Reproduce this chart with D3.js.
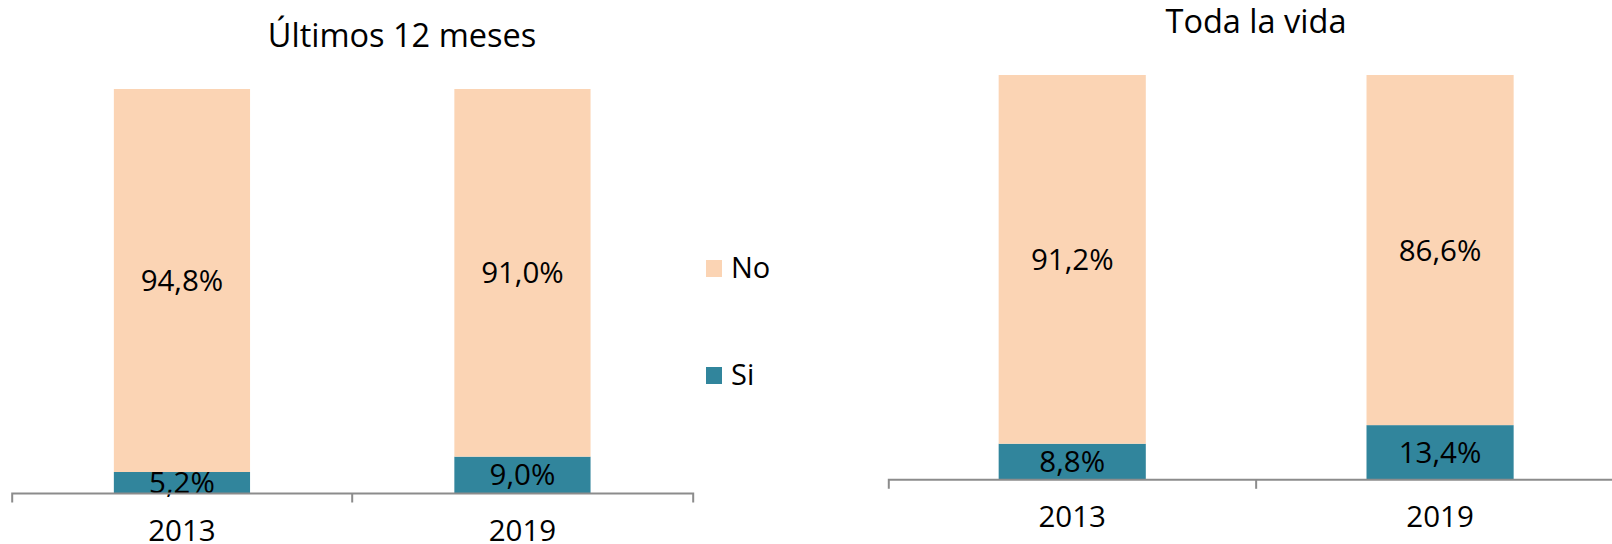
<!DOCTYPE html>
<html>
<head>
<meta charset="utf-8">
<script src="https://cdn.jsdelivr.net/npm/d3@7"></script>
<style>
  body { margin: 0; background: #fff; }
  text { font-family: "Open Sans", "Noto Sans", sans-serif; fill: #000; }
</style>
</head>
<body>
<div id="chart"></div>
<script>
const YEARS = ["2013", "2019"];
const SERIES = ["Si", "No"];
const SI_12M = [5.2, 9.0];
const NO_12M = [94.8, 91.0];
const SI_VIDA = [8.8, 13.4];
const NO_VIDA = [91.2, 86.6];
const TITLES = ["Últimos 12 meses", "Toda la vida"];

const COLORS = { Si: "#31859c", No: "#fbd4b4" };
const W = 1612, H = 544;

var svg = d3.select("#chart") //main svg
  .append("svg")
  .attr("width", W)
  .attr("height", H);

// one panel per chart, positions found by guess and check against the picture
const panels = [
  { title: TITLES[0], si: SI_12M, no: NO_12M, x0: 11.7, x1: 692.7, top: 89, base: 493, titleX: 402, titleY: 47 },
  { title: TITLES[1], si: SI_VIDA, no: NO_VIDA, x0: 888.3, x1: 1624, top: 75, base: 479.3, titleX: 1256, titleY: 32.5 }
];

const fmt = (v) => v.toFixed(1).replace(".", ",") + "%";

panels.forEach(function(p) {
  const x = d3.scaleBand()
    .domain(YEARS)
    .range([p.x0, p.x1])
    .paddingInner(0.6)
    .paddingOuter(0.3);

  const y = d3.scaleLinear()
    .domain([0, 100])
    .range([p.base, p.top]);

  const rows = YEARS.map((yr, i) => ({ year: yr, Si: p.si[i], No: p.no[i] }));
  const stacked = d3.stack().keys(SERIES)(rows);

  const g = svg.append("g");

  g.selectAll("g.layer")
    .data(stacked)
    .join("g")
      .attr("class", "layer")
      .attr("fill", (d) => COLORS[d.key])
    .selectAll("rect")
    .data((d) => d)
    .join("rect")
      .attr("x", (d) => x(d.data.year))
      .attr("width", x.bandwidth())
      .attr("y", (d) => y(d[1]))
      .attr("height", (d) => y(d[0]) - y(d[1]));

  // value labels, centred in each segment
  g.selectAll("g.lab")
    .data(stacked)
    .join("g")
      .attr("class", "lab")
    .selectAll("text")
    .data((d) => d.map((s) => ({ s: s, key: d.key })))
    .join("text")
      .attr("x", (d) => x(d.s.data.year) + x.bandwidth() / 2)
      .attr("y", (d) => (y(d.s[0]) + y(d.s[1])) / 2)
      .attr("dy", "0.36em")
      .attr("text-anchor", "middle")
      .style("font-size", "29.5px")
      .text((d) => fmt(d.s.data[d.key]));

  // axis: labels at centres, ticks at category edges
  const axis = g.append("g")
    .attr("transform", "translate(0," + p.base + ")")
    .call(d3.axisBottom(x).tickSizeInner(0).tickSizeOuter(9.5).tickPadding(27));
  axis.select(".domain").attr("stroke", "#8c8c8c").attr("stroke-width", 2);
  axis.selectAll(".tick text")
    .attr("fill", "#000")
    .style("font-size", "29.5px")
    .style("font-family", '"Open Sans", "Noto Sans", sans-serif');

  const mid = x.range()[0] + x.step() * (x.paddingOuter() + 1 - x.paddingInner() / 2);
  axis.append("line")
    .attr("x1", mid).attr("x2", mid)
    .attr("y1", 0).attr("y2", 9.5)
    .attr("stroke", "#8c8c8c")
    .attr("stroke-width", 2);

  svg.append("text")
    .attr("x", p.titleX)
    .attr("y", p.titleY)
    .attr("text-anchor", "middle")
    .style("font-size", "32.5px")
    .text(p.title);
});

// legend between the two charts
const legend = svg.append("g")
  .attr("transform", "translate(706,0)");

const legY = { No: 260, Si: 367 };

legend.selectAll("rect")
  .data(["No", "Si"])
  .join("rect")
    .attr("x", 0)
    .attr("y", (d) => legY[d])
    .attr("width", 16)
    .attr("height", 17)
    .attr("fill", (d) => COLORS[d]);

legend.selectAll("text")
  .data(["No", "Si"])
  .join("text")
    .attr("x", 25)
    .attr("y", (d) => legY[d] + 18)
    .style("font-size", "29px")
    .text((d) => d);
</script>
</body>
</html>
